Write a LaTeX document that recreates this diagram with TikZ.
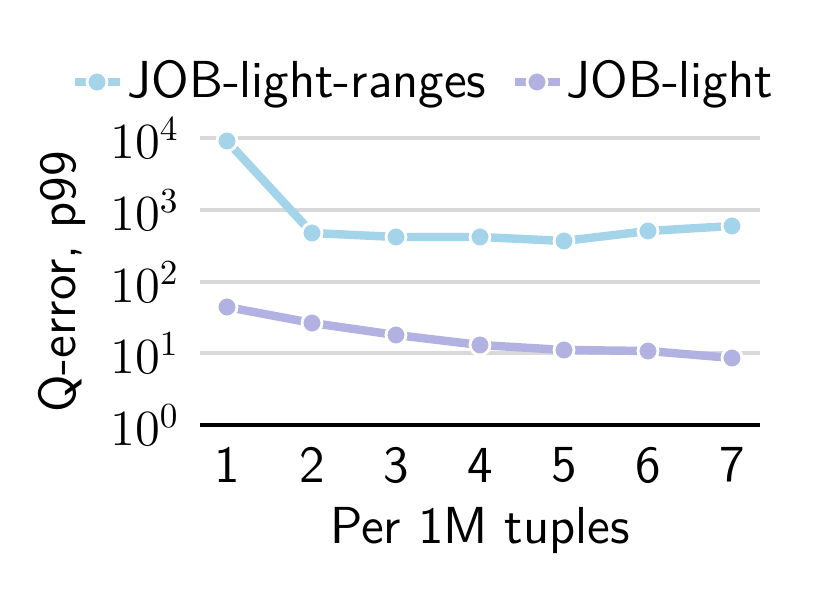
\documentclass[tikz,border=0pt]{standalone}
\begin{document}
\begin{tikzpicture}[x=0.01cm,y=-0.01cm,
  txt/.style={font=\fontsize{14.8}{17}\sffamily\selectfont,inner sep=0pt},
  mth/.style={font=\fontsize{14.2}{17}\selectfont,inner sep=0pt},
  grid/.style={draw=black!15,line width=1.4pt},
  sA/.style={draw=cA,line width=2.4pt,line join=round},
  sB/.style={draw=cB,line width=2.4pt,line join=round},
  dA/.style={circle,fill=cA,draw=white,line width=0.8pt,minimum size=0.2cm,inner sep=0pt},
  dB/.style={circle,fill=cB,draw=white,line width=0.8pt,minimum size=0.2cm,inner sep=0pt}]
\definecolor{cA}{RGB}{164,212,234}
\definecolor{cB}{RGB}{178,178,226}
\useasboundingbox (0,0) rectangle (833,598);
\foreach \y/\e in {138/4,210/3,282/2,353/1}{
  \draw[grid] (200,\y) -- (760,\y);
  \node[mth,anchor=east] (t\e) at (180,\y) {$10^{\e}$};}
\draw[line width=1.2pt] (200,425) -- (760,425);
\node[mth,anchor=east] (t0) at (180,425) {$10^{0}$};
\foreach \x [count=\i] in {227,312,396,480,564,648,732}
  \node[txt] (x\i) at (\x,465) {\i};
\draw[sA] (227,141)--(312,233)--(396,237)--(480,237)--(564,241)--(648,231)--(732,226);
\draw[sB] (227,307)--(312,323)--(396,335)--(480,345)--(564,350)--(648,351)--(732,358);
\foreach \x/\y [count=\i] in {227/141,312/233,396/237,480/237,564/241,648/231,732/226}
  \node[dA] (a\i) at (\x,\y) {};
\foreach \x/\y [count=\i] in {227/307,312/323,396/335,480/345,564/350,648/351,732/358}
  \node[dB] (b\i) at (\x,\y) {};
\draw[sA] (75,82)--(120,82); \node[dA] (la) at (97,82) {};
\node[txt,anchor=west] (lat) at (127,84) {JOB-light-ranges};
\draw[sB] (515,82)--(560,82); \node[dB] (lb) at (537,82) {};
\node[txt,anchor=west] (lbt) at (566,84) {JOB-light};
\node[txt,rotate=90] (yl) at (62,282) {Q-error, p99};
\node[txt] (xl) at (480,530) {Per 1M tuples};
\end{tikzpicture}
\end{document}
